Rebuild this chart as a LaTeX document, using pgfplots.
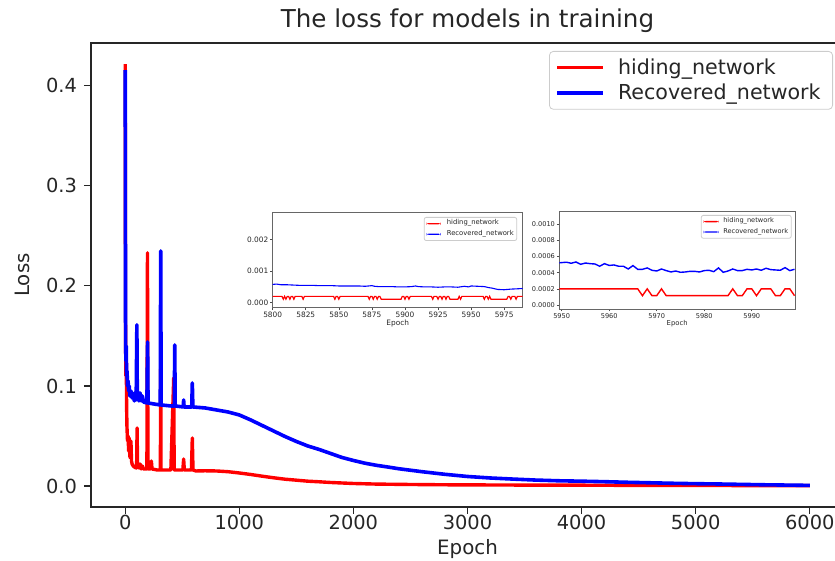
\documentclass[border=0pt]{standalone}
\usepackage{fontspec}
\setmainfont{DejaVu Sans}
\usepackage{pgfplots}
\pgfplotsset{compat=1.18}
\definecolor{mplred}{RGB}{255,0,0}
\definecolor{mplblue}{RGB}{0,0,255}
\definecolor{txt}{RGB}{38,38,38}
\begin{document}
\begin{tikzpicture}
\path[use as bounding box] (0pt,0pt) rectangle (417.5pt,280.5pt);
\clip (0pt,0pt) rectangle (417.5pt,280.5pt);
% ---------------- main axis ----------------
\begin{axis}[
  at={(45.5pt,27pt)}, anchor=south west,
  width=376.5pt, height=232pt, scale only axis,
  xmin=-300, xmax=6300, ymin=-0.021, ymax=0.4428,
  scaled x ticks=false, scaled y ticks=false,
  /pgf/number format/assume math mode=true,
  xtick={0,1000,2000,3000,4000,5000,6000},
  xticklabels={0,1000,2000,3000,4000,5000,6000},
  ytick={0,0.1,0.2,0.3,0.4},
  yticklabels={0.0,0.1,0.2,0.3,0.4},
  tick align=outside, xtick pos=bottom, ytick pos=left,
  major tick length=3.5pt,
  tick style={txt, line width=0.6pt},
  axis line style={txt, line width=0.8pt},
  ticklabel style={font=\fontsize{9.7}{11}\selectfont, text=txt},
  xticklabel style={yshift=3pt},
  title={The loss for models in training},
  title style={font=\fontsize{12.3}{14}\selectfont, text=txt, at={(axis description cs:0.5,1)}, anchor=base, yshift=1.5pt},
  xlabel={Epoch},
  xlabel style={font=\fontsize{9.9}{12}\selectfont, text=txt, at={(axis description cs:0.5,0)}, anchor=base, yshift=-24pt},
  ylabel={Loss},
  ylabel style={font=\fontsize{9.9}{12}\selectfont, text=txt, at={([xshift=-31pt]axis description cs:0,0.5)}, anchor=base},
  legend style={at={(axis description cs:1,1)}, anchor=north east, xshift=-5.5pt, yshift=-4pt,
    draw=black!20, rounded corners=2pt, fill=white, text=txt,
    font=\fontsize{10.3}{12}\selectfont, inner xsep=3pt, inner ysep=3pt, row sep=2.3pt,
    nodes={inner sep=0.5pt},
    /tikz/every odd column/.append style={column sep=6pt}},
  legend cell align=left,
  legend image code/.code={\draw[#1] (0pt,0pt) -- (23pt,0pt);},
]
\addplot[mplred, line width=1.7pt, line join=round] coordinates {
(0,0.4217) (3,0.145) (6,0.11) (9,0.13) (12,0.08) (15,0.06) (20,0.045) (25,0.05) (30,0.035) (35,0.048) (40,0.03) (45,0.028) (50,0.045) (55,0.025) (60,0.022) (70,0.02) (80,0.019) (95,0.018) (100,0.02) (104,0.058) (108,0.019) (120,0.018) (130,0.022) (140,0.017) (150,0.02) (160,0.017) (190,0.017) (195,0.233) (199,0.017) (220,0.017) (229,0.025) (235,0.017) (280,0.016) (308,0.016) (311,0.12) (314,0.016) (400,0.016) (425,0.108) (429,0.016) (505,0.016) (512,0.027) (518,0.016) (580,0.016) (588,0.048) (594,0.016) (620,0.015) (700,0.0152) (800,0.015) (900,0.0143) (1000,0.013) (1100,0.0115) (1200,0.0098) (1300,0.0082) (1400,0.0068) (1500,0.0058) (1600,0.0048) (1700,0.0042) (1800,0.0035) (1900,0.003) (2000,0.0025) (2200,0.0019) (2500,0.0015) (2800,0.0012) (3000,0.0011) (3500,0.0009) (4000,0.0008) (4500,0.0006) (5000,0.0005) (5500,0.0004) (6000,0.0003)
};
\addlegendentry{hiding\_network}
\addplot[mplblue, line width=1.8pt, line join=round] coordinates {
(0,0.4157) (3,0.148) (6,0.125) (9,0.14) (12,0.11) (16,0.115) (20,0.1) (25,0.105) (30,0.095) (35,0.1) (40,0.09) (50,0.095) (60,0.088) (70,0.092) (80,0.085) (90,0.094) (96,0.086) (102,0.161) (106,0.087) (115,0.09) (120,0.085) (130,0.093) (140,0.085) (150,0.09) (160,0.084) (190,0.083) (196,0.144) (200,0.083) (250,0.082) (307,0.081) (311,0.235) (315,0.081) (400,0.08) (430,0.08) (434,0.141) (438,0.08) (508,0.079) (512,0.086) (516,0.079) (583,0.079) (588,0.103) (593,0.079) (700,0.078) (800,0.076) (900,0.074) (1000,0.071) (1100,0.066) (1200,0.0605) (1300,0.055) (1400,0.0495) (1500,0.0445) (1600,0.04) (1700,0.0365) (1800,0.0325) (1900,0.0285) (2000,0.0255) (2100,0.0228) (2200,0.0207) (2300,0.019) (2400,0.0172) (2600,0.0143) (2800,0.0117) (3000,0.0095) (3200,0.008) (3400,0.0069) (3600,0.0059) (3800,0.0052) (4000,0.0048) (4200,0.0043) (4400,0.0037) (4600,0.0032) (4800,0.0027) (5000,0.0023) (5200,0.002) (5400,0.0016) (5600,0.0012) (5800,0.0009) (6000,0.0006)
};
\addlegendentry{Recovered\_network\kern2.5pt}
\end{axis}
% ---------------- inset 1 ----------------
\begin{axis}[
  at={(136.35pt,126.65pt)}, anchor=south west,
  width=125pt, height=47.85pt, scale only axis,
  axis background/.style={fill=white},
  xmin=5800, xmax=5989, ymin=-0.00016, ymax=0.00288,
  scaled x ticks=false, scaled y ticks=false,
  xtick={5800,5825,5850,5875,5900,5925,5950,5975},
  xticklabels={5800,5825,5850,5875,5900,5925,5950,5975},
  ytick={0,0.001,0.002},
  yticklabels={0.000,0.001,0.002},
  tick align=outside, xtick pos=bottom, ytick pos=left,
  major tick length=1.2pt,
  tick style={black!70, line width=0.3pt},
  axis line style={black!60, line width=0.35pt},
  ticklabel style={font=\fontsize{3.7}{4.4}\selectfont, text=txt, inner sep=0.8pt},
  xlabel={Epoch},
  xlabel style={font=\fontsize{3.7}{4.4}\selectfont, text=txt, at={(axis description cs:0.5,0)}, anchor=base, yshift=-9pt},
  legend style={at={(axis description cs:1,1)}, anchor=north east, xshift=-2.8pt, yshift=-2.5pt,
    draw=black!20, rounded corners=1pt, fill=white, text=txt,
    font=\fontsize{3.4}{4}\selectfont, inner xsep=1.2pt, inner ysep=0.8pt, row sep=0.6pt,
    nodes={inner sep=0.3pt},
    /tikz/every odd column/.append style={column sep=2.8pt}},
  legend cell align=left,
]
\addplot[mplred, line width=0.6pt, forget plot] coordinates {
(5800,0.0002)(5807,0.0002)(5808,0.00011)(5809,0.0002)(5810,0.00011)(5811,0.0002)(5812,0.0002)(5813,0.00011)(5814,0.0002)(5815,0.0002)(5816,0.00011)(5817,0.0002)(5822,0.0002)(5823,0.00011)(5824,0.0002)(5846,0.0002)(5847,0.00011)(5848,0.0002)(5849,0.0002)(5850,0.00011)(5851,0.0002)(5872,0.0002)(5873,0.00011)(5874,0.0002)(5875,0.0002)(5876,0.00011)(5877,0.0002)(5878,0.0002)(5879,0.00011)(5880,0.0002)(5881,0.0002)(5882,0.00011)(5897,0.00011)(5898,0.0002)(5899,0.0002)(5900,0.00011)(5901,0.0002)(5902,0.0002)(5903,0.00011)(5904,0.0002)(5920,0.0002)(5921,0.00011)(5922,0.0002)(5924,0.0002)(5925,0.00011)(5926,0.0002)(5927,0.0002)(5928,0.00011)(5929,0.0002)(5930,0.0002)(5931,0.00011)(5932,0.0002)(5933,0.0002)(5934,0.00011)(5940,0.00011)(5941,0.0002)(5942,0.00011)(5943,0.0002)(5959,0.0002)(5960,0.00011)(5961,0.0002)(5962,0.0002)(5963,0.00011)(5964,0.0002)(5965,0.00011)(5977,0.00011)(5978,0.0002)(5979,0.0002)(5980,0.00011)(5981,0.0002)(5983,0.0002)(5984,0.00011)(5985,0.0002)(5989,0.0002)
};
\addplot[mplblue, line width=0.55pt, forget plot] coordinates {
(5800,0.00058)(5803,0.00059)(5806,0.00057)(5810,0.00057)(5815,0.00056)(5820,0.00055)(5825,0.00055)(5830,0.00055)(5835,0.00054)(5840,0.00054)(5845,0.00054)(5850,0.00053)(5855,0.00053)(5860,0.00053)(5865,0.00053)(5870,0.00052)(5875,0.00054)(5877,0.00052)(5880,0.00051)(5885,0.00051)(5890,0.00051)(5895,0.0005)(5900,0.0005)(5905,0.00051)(5908,0.00053)(5910,0.00051)(5915,0.0005)(5920,0.0005)(5925,0.00049)(5930,0.0005)(5935,0.0005)(5940,0.00049)(5945,0.00052)(5948,0.0005)(5950,0.00053)(5955,0.00052)(5960,0.00051)(5963,0.00048)(5966,0.00046)(5970,0.00042)(5975,0.00041)(5980,0.00043)(5985,0.00044)(5989,0.00045)
};
\addlegendimage{legend image code/.code={\fill[mplred, draw=none] (0pt,-0.3pt) rectangle (7pt,0.3pt);}}
\addlegendentry{hiding\_network}
\addlegendimage{legend image code/.code={\fill[mplblue, draw=none] (0pt,-0.28pt) rectangle (7pt,0.28pt);}}
\addlegendentry{Recovered\_network}
\end{axis}
% ---------------- inset 2 ----------------
\begin{axis}[
  at={(279.65pt,126pt)}, anchor=south west,
  width=117.85pt, height=49pt, scale only axis,
  axis background/.style={fill=white},
  xmin=5949.5, xmax=5999.1, ymin=-0.00005, ymax=0.001165,
  scaled x ticks=false, scaled y ticks=false,
  xtick={5950,5960,5970,5980,5990},
  xticklabels={5950,5960,5970,5980,5990},
  ytick={0,0.0002,0.0004,0.0006,0.0008,0.001},
  yticklabels={0.0000,0.0002,0.0004,0.0006,0.0008,0.0010},
  tick align=outside, xtick pos=bottom, ytick pos=left,
  major tick length=1.2pt,
  tick style={black!70, line width=0.3pt},
  axis line style={black!60, line width=0.35pt},
  ticklabel style={font=\fontsize{3.3}{4}\selectfont, text=txt, inner sep=0.8pt},
  xlabel={Epoch},
  xlabel style={font=\fontsize{3.4}{4}\selectfont, text=txt, at={(axis description cs:0.5,0)}, anchor=base, yshift=-8.5pt},
  legend style={at={(axis description cs:1,1)}, anchor=north east, xshift=-1.7pt, yshift=-2pt,
    draw=black!20, rounded corners=1pt, fill=white, text=txt,
    font=\fontsize{3.3}{4}\selectfont, inner xsep=1.2pt, inner ysep=0.8pt, row sep=0.6pt,
    nodes={inner sep=0.3pt},
    /tikz/every odd column/.append style={column sep=2pt}},
  legend cell align=left,
]
\addplot[mplred, line width=0.7pt, forget plot] coordinates {
(5949,0.0002)(5966,0.0002)(5967,0.000115)(5968,0.0002)(5969,0.000115)(5970,0.000115)(5971,0.0002)(5972,0.000115)(5985,0.000115)(5986,0.0002)(5987,0.000115)(5988,0.000115)(5989,0.0002)(5990,0.0002)(5991,0.000115)(5992,0.0002)(5994,0.0002)(5995,0.000115)(5996,0.000115)(5997,0.0002)(5998,0.0002)(5999,0.000115)
};
\addplot[mplblue, line width=0.7pt, forget plot] coordinates {
(5949,0.00052)(5950,0.000525)(5951,0.00053)(5952,0.000517)(5953,0.000533)(5954,0.000504)(5955,0.00052)(5956,0.000512)(5957,0.000508)(5958,0.00048)(5959,0.000512)(5960,0.00049)(5961,0.000496)(5962,0.00048)(5963,0.00048)(5964,0.000446)(5965,0.000488)(5966,0.000442)(5967,0.000442)(5968,0.000459)(5969,0.00043)(5970,0.000421)(5971,0.000446)(5972,0.000426)(5973,0.000409)(5974,0.000421)(5975,0.000405)(5976,0.000409)(5977,0.000417)(5978,0.000417)(5979,0.000409)(5980,0.000426)(5981,0.00043)(5982,0.000413)(5983,0.000459)(5984,0.000405)(5985,0.000421)(5986,0.000446)(5987,0.000426)(5988,0.000426)(5989,0.000442)(5990,0.000434)(5991,0.000446)(5992,0.00043)(5993,0.000455)(5994,0.000438)(5995,0.000434)(5996,0.00043)(5997,0.000463)(5998,0.000426)(5999,0.000442)
};
\addlegendimage{legend image code/.code={\fill[mplred, draw=none] (0pt,-0.33pt) rectangle (7.5pt,0.33pt);}}
\addlegendentry{hiding\_network}
\addlegendimage{legend image code/.code={\fill[mplblue, draw=none] (0pt,-0.33pt) rectangle (7.5pt,0.33pt);}}
\addlegendentry{Recovered\_network}
\end{axis}
\end{tikzpicture}
\end{document}
